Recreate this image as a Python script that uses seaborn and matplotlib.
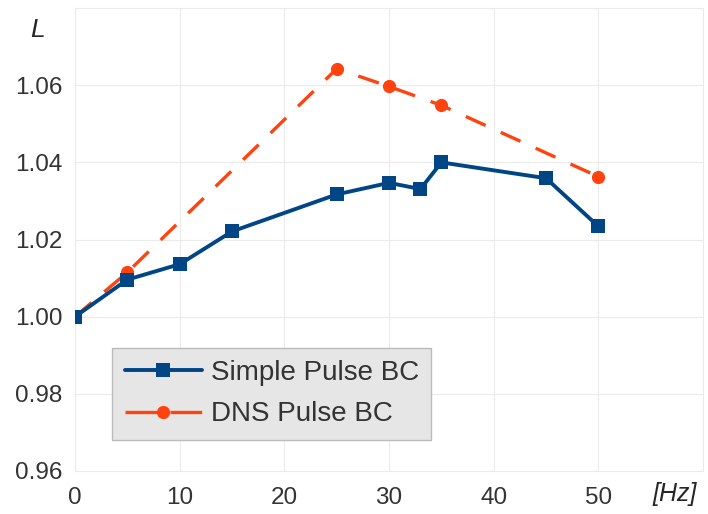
import pandas as pd
import matplotlib.pyplot as plt
from matplotlib.lines import Line2D
import seaborn as sns

# values
freq_simple = [0, 5, 10, 15, 25, 30, 33, 35, 45, 50]
L_simple = [1.000, 1.0096, 1.0136, 1.0221, 1.0317, 1.0347, 1.0331, 1.0400, 1.0359, 1.0234]
freq_dns = [0, 5, 25, 30, 35, 50]
L_dns = [1.000, 1.0115, 1.0643, 1.0597, 1.0548, 1.0363]

x_ticks = [0, 10, 20, 30, 40, 50, 60]
x_labels = ['0', '10', '20', '30', '40', '50', '']
y_ticks = [0.96, 0.98, 1.00, 1.02, 1.04, 1.06, 1.08]
y_labels = ['0.96', '0.98', '1.00', '1.02', '1.04', '1.06', '']

blue = '#004586'
orange = '#ff420e'

sns.set_style('whitegrid', {'grid.color': '#ebebeb', 'axes.edgecolor': 'white'})
plt.rcParams['font.family'] = ['Liberation Sans', 'DejaVu Sans']

fig = plt.figure(figsize=(7.08, 5.14), dpi=100)
ax = fig.add_axes([0.106, 0.084, 0.887, 0.9])

df_s = pd.DataFrame({'Hz': freq_simple, 'L': L_simple})
df_d = pd.DataFrame({'Hz': freq_dns, 'L': L_dns})

sns.lineplot(data=df_d, x='Hz', y='L', ax=ax, color=orange, lw=2.4,
             linestyle=(0, (6.5, 5)), marker='o', markersize=9.5, markeredgewidth=0,
             zorder=3)
sns.lineplot(data=df_s, x='Hz', y='L', ax=ax, color=blue, lw=2.8,
             marker='s', markersize=10, markeredgewidth=0,
             zorder=4)

ax.set_xlim(0, 60)
ax.set_ylim(0.96, 1.08)
ax.set_xticks(x_ticks)
ax.set_xticklabels(x_labels)
ax.set_yticks(y_ticks)
ax.set_yticklabels(y_labels)
ax.tick_params(labelsize=17.5, colors='#333333', length=0)
ax.tick_params(axis='y', pad=9)
ax.tick_params(axis='x', pad=12)
ax.set_xlabel('')
ax.set_ylabel('')
for s in ax.spines.values():
    s.set_visible(False)
for gl in ax.get_xgridlines() + ax.get_ygridlines():
    gl.set_clip_on(False)

fig.text(0.053, 0.942, 'L', fontsize=19, style='italic', ha='center', va='center')
fig.text(0.953, 0.038, '[Hz]', fontsize=18, style='italic', ha='center', va='center')

# legend samples: solid line + square, dash - dot - dash
h_simple = Line2D([], [], color=blue, lw=2.8, marker='s', markersize=10, markeredgewidth=0)
h_dns = Line2D([], [], color=orange, lw=2.4, ls=(0, (9.5, 4)), marker='o',
               markersize=9.5, markeredgewidth=0)
leg = ax.legend([h_simple, h_dns], ['Simple Pulse BC', 'DNS Pulse BC'], loc='lower left',
                bbox_to_anchor=(0.059, 0.067), fontsize=20, frameon=True,
                fancybox=False, facecolor='#e6e6e6', edgecolor='#bbbbbb',
                framealpha=1, handlelength=2.8, handletextpad=0.3,
                borderpad=0.45, labelspacing=0.55, borderaxespad=0)
for t in leg.get_texts():
    t.set_color('#333333')

fig.savefig('out.png', dpi=100)
